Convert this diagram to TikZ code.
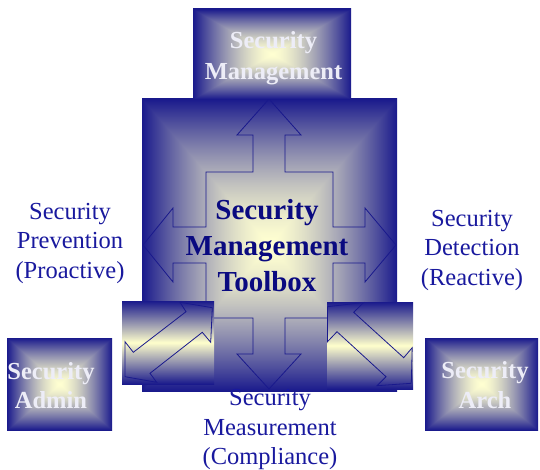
\documentclass[tikz,border=0pt]{standalone}
\usepackage{fontspec}
\setmainfont{Liberation Serif}
\definecolor{edgeblue}{rgb}{0.1,0.1,0.55}
\definecolor{glow}{rgb}{1,1,0.8}
\definecolor{lblue}{rgb}{0.1,0.1,0.62}
\definecolor{txtnavy}{rgb}{0.04,0.04,0.5}
\definecolor{boxtxt}{rgb}{0.93,0.93,0.97}
\pgfdeclarefunctionalshading{rectglow}{\pgfpoint{-50bp}{-50bp}}{\pgfpoint{50bp}{50bp}}{}{
abs exch abs 2 copy lt {exch} if pop
25 div dup 1 gt {pop 1} if
1.5 exp
dup dup
-0.9 mul 1 add
3 1 roll
-0.9 mul 1 add
exch
-0.27 mul 0.82 add
}
\tikzset{
  glowbox/.style={shading=rectglow, inner sep=0pt, draw=none},
  tube/.style={top color=edgeblue, bottom color=edgeblue, middle color=glow, inner sep=0pt, draw=none},
  outl/.style={draw=edgeblue, line width=0.8pt, line join=miter},
  sidelbl/.style={text=lblue, font=\fontsize{24.5}{29.5}\selectfont, align=center, inner sep=0pt},
  boxlbl/.style={text=boxtxt, font=\bfseries\fontsize{24.5}{31}\selectfont, align=center, inner sep=0pt},
  corelbl/.style={text=txtnavy, font=\bfseries\fontsize{29}{36}\selectfont, align=center, inner sep=0pt}
}
\begin{document}
\begin{tikzpicture}[x=1pt,y=-1pt]
\useasboundingbox (0,0) rectangle (540,470);
\fill[white] (0,0) rectangle (540,470);
% central toolbox
\node[glowbox, minimum width=255pt, minimum height=292pt] (core) at (269.5,245) {};
\draw[outl] (269,99) -- (301,135) -- (285,135) -- (285,172) -- (333,172) -- (333,227)
  -- (365,227) -- (365,208) -- (396,245) -- (365,282) -- (365,263) -- (333,263)
  -- (333,318) -- (285,318) -- (285,354) -- (301,354) -- (269,389) -- (237,354)
  -- (253,354) -- (253,318) -- (206,318) -- (206,263) -- (173,263) -- (173,282)
  -- (143,245) -- (173,208) -- (173,227) -- (206,227) -- (206,172) -- (253,172)
  -- (253,135) -- (237,135) -- cycle;
% top box
\node[glowbox, minimum width=158pt, minimum height=90pt] (mgmtbox) at (272,54) {};
\node[boxlbl] (mgmt) at (273.5,58.5) {Security\\Management};
% tubes
\node[tube, minimum width=92pt, minimum height=83pt] (ltube) at (168,342.5) {};
\draw[outl] (125,341.7) -- (133.3,352.3) -- (186,311.7) -- (180,302.3) -- (212.3,307.7)
  -- (210.7,342.3) -- (202.3,332.3) -- (150,373.3) -- (156.7,382.3) -- (125,376.7) -- cycle;
\node[tube, minimum width=86pt, minimum height=87pt] (rtube) at (370,345.5) {};
\draw[outl] (363.7,302.5) -- (353.7,312.3) -- (403.7,357.7) -- (412.2,347.7) -- (411.3,383.3)
  -- (377,385.7) -- (386,376.7) -- (337,331.7) -- (327.5,341.7) -- (327.5,306.7) -- cycle;
% core text
\node[corelbl] (coretxt) at (267,246) {Security\\Management\\Toolbox};
% corner boxes
\node[glowbox, minimum width=105pt, minimum height=92pt] (adminbox) at (59.5,384) {};
\node[boxlbl, font=\bfseries\fontsize{24.5}{29.5}\selectfont] (admin) at (51,385.5) {Security\\Admin};
\node[glowbox, minimum width=113pt, minimum height=92pt] (archbox) at (481.5,384) {};
\node[boxlbl, font=\bfseries\fontsize{24.5}{30}\selectfont] (arch) at (485,385) {Security\\Arch};
% side labels
\node[sidelbl] (prev) at (70,243.4) {Security\\Prevention\\(Proactive)};
\node[sidelbl] (detect) at (472,250) {Security\\Detection\\(Reactive)};
\node[sidelbl] (meas) at (270,429.5) {Security\\Measurement\\(Compliance)};
\end{tikzpicture}
\end{document}
